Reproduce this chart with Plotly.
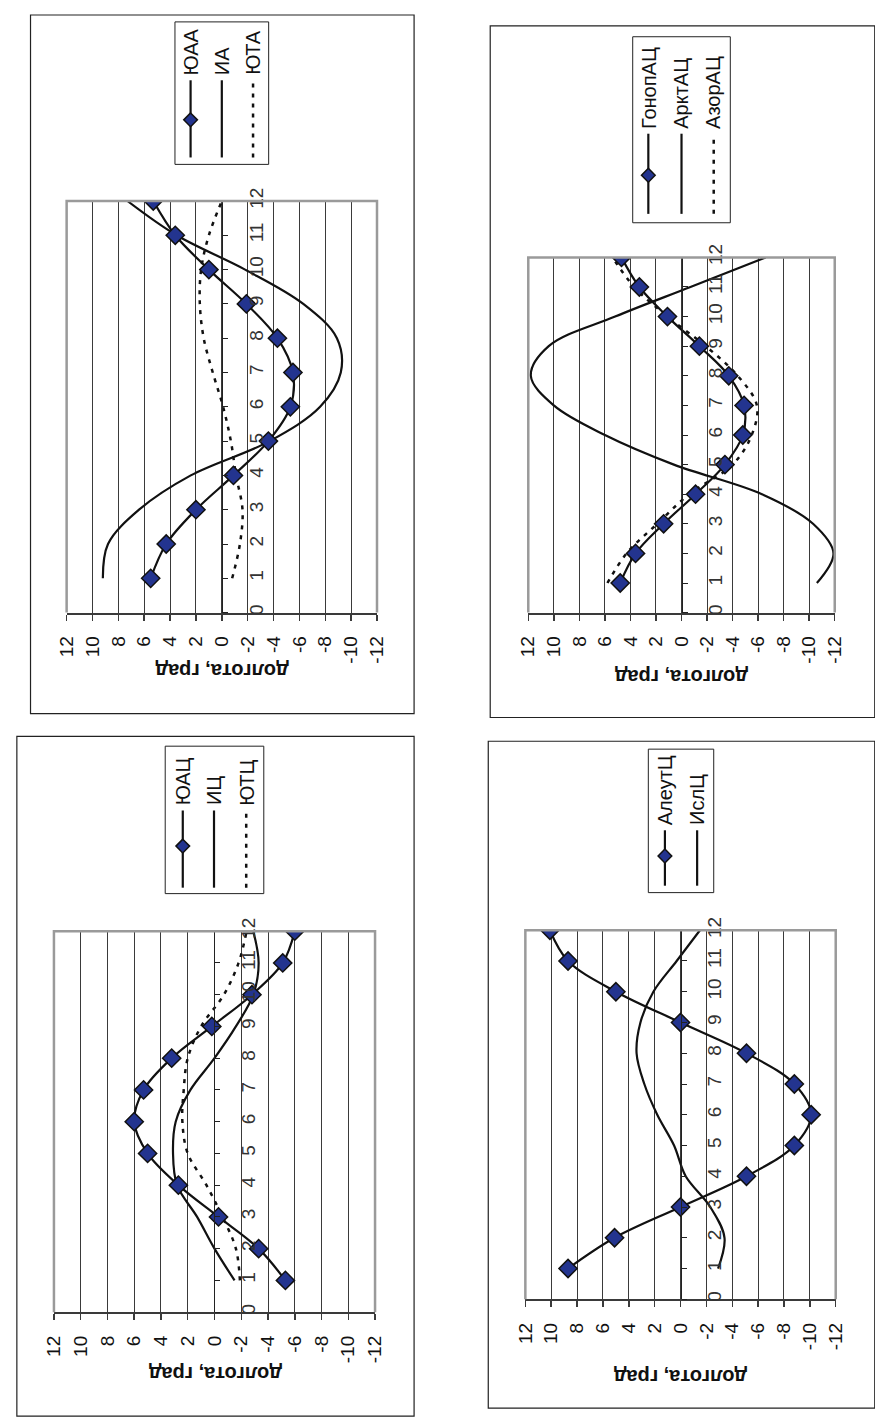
import plotly.graph_objects as go

W, H = 875, 1422
FONT = "Liberation Sans, Arial, sans-serif"

months = [1, 2, 3, 4, 5, 6, 7, 8, 9, 10, 11, 12]
value_ticks = [12, 10, 8, 6, 4, 2, 0, -2, -4, -6, -8, -10, -12]
value_ticktext = ["12", "10", "8", "6", "4", "2", "0", "-2", "-4", "-6", "-8", "-10", "-12"]
month_ticks = [0, 1, 2, 3, 4, 5, 6, 7, 8, 9, 10, 11, 12]
axis_title = "долгота, град"

# Panel A (top-left)
yuaa = [5.5, 4.3, 2.0, -0.9, -3.6, -5.3, -5.5, -4.3, -1.9, 1.0, 3.6, 5.3]
ia = [9.2, 8.8, 6.4, 2.4, -3.7, -7.6, -9.2, -8.9, -6.3, -1.8, 3.5, 7.3]
yuta = [-0.8, -1.4, -1.6, -1.1, -0.7, -0.1, 0.7, 1.4, 1.7, 1.6, 1.0, 0.0]

# Panel B (top-right)
gonop = [4.8, 3.6, 1.4, -1.1, -3.4, -4.8, -4.9, -3.7, -1.4, 1.1, 3.3, 4.7]
arkt = [-10.6, -11.9, -10.3, -6.3, 0.6, 6.0, 10.0, 11.8, 10.4, 5.2, -0.7, -6.6]
azor = [5.8, 4.3, 1.9, -0.6, -4.0, -5.5, -5.9, -4.4, -1.9, 1.1, 3.7, 5.4]

# Panel C (bottom-left)
yuac = [-5.3, -3.3, -0.3, 2.7, 5.0, 6.0, 5.3, 3.2, 0.2, -2.8, -5.1, -6.0]
ic = [-1.5, 0.0, 1.3, 2.8, 3.1, 2.9, 1.8, 0.0, -1.6, -2.9, -3.3, -2.9]
yutc = [-1.9, -1.6, -0.6, 0.6, 2.0, 2.4, 2.3, 2.0, 1.0, -0.7, -1.8, -2.4]

# Panel D (bottom-right)
aleut = [8.7, 5.1, 0.0, -5.1, -8.8, -10.1, -8.8, -5.1, 0.0, 5.0, 8.7, 10.1]
isl = [-2.9, -3.4, -2.3, -0.4, 0.5, 1.8, 2.8, 3.4, 3.1, 2.1, 0.3, -1.5]

panels = [
    dict(plot=(57, 190, 375, 606), frame=(20, 2, 413, 708), title_y=665,
         legend=(168, 9, 264, 153), cols=[184, 216, 248], line_top=68, line_bot=146,
         diamond=108, text_bot=65,
         series=[("ИА", ia, "solid"), ("ЮТА", yuta, "dot"), ("ЮАА", yuaa, "marker")]),
    dict(plot=(530, 247, 844, 606), frame=(491, 13, 885, 712), title_y=671,
         legend=(637, 24, 737, 212), cols=[653, 687, 720], line_top=122, line_bot=203,
         diamond=164, text_bot=119,
         series=[("АрктАЦ", arkt, "solid"), ("АзорАЦ", azor, "dot"), ("ГонопАЦ", gonop, "marker")]),
    dict(plot=(44, 928, 373, 1313), frame=(6, 731, 413, 1418), title_y=1375,
         legend=(158, 741, 259, 890), cols=[176, 208, 241], line_top=806, line_bot=884,
         diamond=842, text_bot=803,
         series=[("ИЦ", ic, "solid"), ("ЮТЦ", yutc, "dot"), ("ЮАЦ", yuac, "marker")]),
    dict(plot=(527, 927, 845, 1300), frame=(489, 736, 885, 1410), title_y=1378,
         legend=(653, 744, 720, 889), cols=[670, 703], line_top=826, line_bot=882,
         diamond=852, text_bot=823,
         series=[("ИслЦ", isl, "solid"), ("АлеутЦ", aleut, "marker")]),
]

legend_order = {"marker": 0, "solid": 1, "dot": 2}
DOT = "4px,6px"


def X(p):
    return p / W


def Y(p):
    return 1 - p / H


fig = go.Figure()
shapes = []
annotations = []
layout = {}

for i, p in enumerate(panels, start=1):
    x0, y0, x1, y1 = p["plot"]
    xa = "x" if i == 1 else f"x{i}"
    ya = "y" if i == 1 else f"y{i}"
    xkey = "xaxis" if i == 1 else f"xaxis{i}"
    ykey = "yaxis" if i == 1 else f"yaxis{i}"

    for name, vals, style in p["series"]:
        if style == "marker":
            fig.add_trace(go.Scatter(
                x=vals, y=months, mode="lines+markers", name=name,
                line=dict(color="#111111", width=2.2, shape="spline", smoothing=1.0),
                marker=dict(symbol="diamond", size=14, color="#23348f",
                            line=dict(color="#111111", width=1.5)),
                xaxis=xa, yaxis=ya, showlegend=False))
        elif style == "solid":
            fig.add_trace(go.Scatter(
                x=vals, y=months, mode="lines", name=name,
                line=dict(color="#111111", width=2.2, shape="spline", smoothing=1.0),
                xaxis=xa, yaxis=ya, showlegend=False))
        else:
            fig.add_trace(go.Scatter(
                x=vals, y=months, mode="lines", name=name,
                line=dict(color="#111111", width=2.5, shape="spline", smoothing=1.0,
                          dash=DOT),
                xaxis=xa, yaxis=ya, showlegend=False))

    layout[xkey] = dict(
        domain=[X(x0), X(x1)], range=[12, -12], anchor=ya,
        tickmode="array", tickvals=value_ticks, ticktext=value_ticktext,
        tickangle=-90, tickfont=dict(family=FONT, size=19, color="#111"),
        showgrid=True, gridcolor="#3a3a3a", gridwidth=1, zeroline=False,
        showline=True, linecolor="#3a3a3a", linewidth=2,
        ticks="outside", ticklen=6, tickcolor="#3a3a3a", tickwidth=1.5,
        ticklabelstandoff=8, fixedrange=True)
    zero_pos = X(x0 + (x1 - x0) / 2)
    layout[ykey] = dict(
        domain=[Y(y1), Y(y0)], range=[0, 12], anchor="free", position=zero_pos,
        side="right", tickmode="array", tickvals=month_ticks,
        ticktext=[str(m) for m in month_ticks],
        tickangle=-90, tickfont=dict(family=FONT, size=19, color="#333"),
        showgrid=False, zeroline=False, showline=True, linecolor="#222", linewidth=1,
        ticks="outside", ticklen=5, tickcolor="#222",
        ticklabelstandoff=12, fixedrange=True)

    shapes.append(dict(type="path", xref=f"{xa} domain", yref=f"{ya} domain",
                       path="M 0 0 L 0 1 L 1 1 L 1 0", line=dict(color="#9a9a9a", width=2.5),
                       layer="above"))
    fx0, fy0, fx1, fy1 = p["frame"]
    shapes.append(dict(type="rect", xref="paper", yref="paper",
                       x0=X(fx0), x1=X(fx1), y0=Y(fy1), y1=Y(fy0),
                       line=dict(color="#222", width=1.2)))
    annotations.append(dict(text=f"<b>{axis_title}</b>", xref="paper", yref="paper",
                            x=X(x0 + (x1 - x0) / 2), y=Y(p["title_y"]), showarrow=False,
                            textangle=180, xanchor="center", yanchor="middle",
                            font=dict(family=FONT, size=20, color="#111")))
    lx0, ly0, lx1, ly1 = p["legend"]
    shapes.append(dict(type="rect", xref="paper", yref="paper",
                       x0=X(lx0), x1=X(lx1), y0=Y(ly1), y1=Y(ly0),
                       line=dict(color="#222", width=1)))
    entries = sorted(p["series"], key=lambda s: legend_order[s[2]])
    for cx, (name, vals, style) in zip(p["cols"], entries):
        dash = "solid" if style != "dot" else DOT
        shapes.append(dict(type="line", xref="paper", yref="paper",
                           x0=X(cx), x1=X(cx), y0=Y(p["line_bot"]), y1=Y(p["line_top"]),
                           line=dict(color="#111", width=2.2 if style != "dot" else 2.5,
                                     dash=dash)))
        if style == "marker":
            d = p["diamond"]
            s = 7
            path = (f"M {X(cx)} {Y(d - s)} L {X(cx + s)} {Y(d)} "
                    f"L {X(cx)} {Y(d + s)} L {X(cx - s)} {Y(d)} Z")
            shapes.append(dict(type="path", xref="paper", yref="paper", path=path,
                               fillcolor="#23348f", line=dict(color="#111", width=1.5)))
        annotations.append(dict(text=name, xref="paper", yref="paper",
                                x=X(cx), y=Y(p["text_bot"]), showarrow=False,
                                textangle=-90, xanchor="center", yanchor="bottom",
                                font=dict(family=FONT, size=20, color="#111")))

fig.update_layout(
    width=W, height=H, margin=dict(l=0, r=0, t=0, b=0),
    paper_bgcolor="white", plot_bgcolor="white",
    shapes=shapes, annotations=annotations, showlegend=False,
    **layout)

fig.write_html("out.html",
               config={"displayModeBar": False, "staticPlot": True},
               post_script="document.body.style.margin='0';"
                           "document.body.style.overflow='hidden';")
